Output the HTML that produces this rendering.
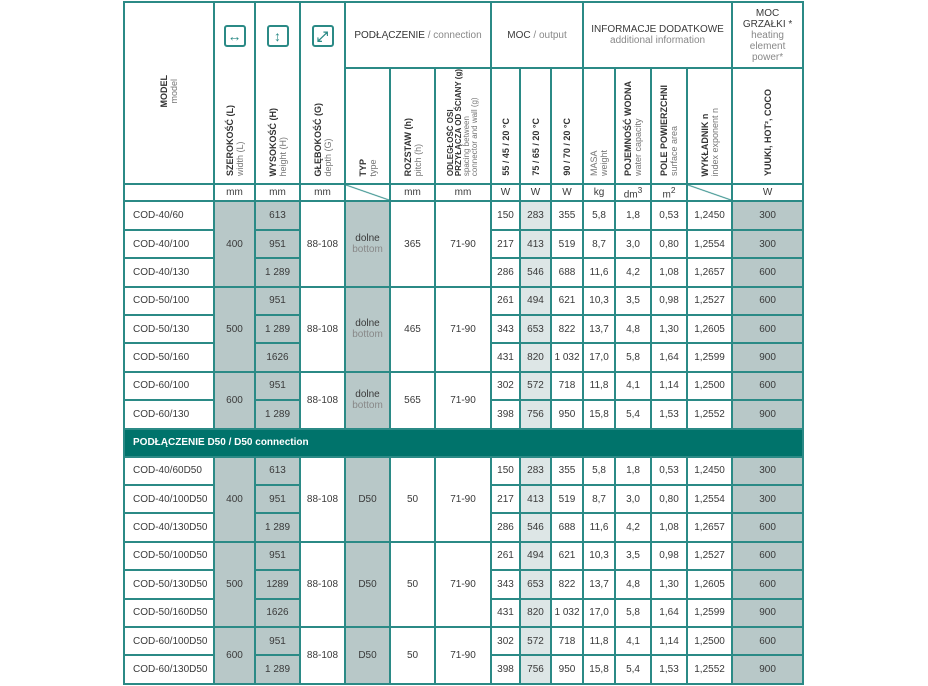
<!DOCTYPE html>
<html><head><meta charset="utf-8"><style>
html,body{margin:0;padding:0;background:#fff;width:928px;height:686px;overflow:hidden}
body{font-family:"Liberation Sans",sans-serif;color:#3a3a3a}
table{position:absolute;left:123px;top:1px;border-collapse:collapse;table-layout:fixed;width:680px}
td{border:2px solid #2b8a86;padding:0;text-align:center;font-size:10px;overflow:hidden}
.g{background:#b8c8c8}
.l{background:#dde6e6}
.m{text-align:left;padding-left:8px}
.v{writing-mode:vertical-rl;transform:rotate(180deg);display:inline-block;text-align:left;line-height:10px;font-size:9px;white-space:nowrap}
.v b{font-weight:bold;color:#333}
.v span{color:#777;font-weight:normal}
.hd td{vertical-align:bottom;padding-bottom:4px}
.ico{display:inline-block;width:18px;height:18px;border:2px solid #2b8a86;border-radius:3px;color:#2b8a86;font-size:14px;line-height:18px;font-weight:bold}
.dg{background:linear-gradient(to bottom left,transparent calc(50% - 1px),#2b8a86 50%,transparent calc(50% + 1px))}
.band td{background:#00736b;color:#fff;text-align:left;padding-left:8px;font-weight:bold;height:26px}
.r td{height:26.4px}
.s{color:#888}
</style></head><body>
<table>
<colgroup><col style="width:90px"><col style="width:41px"><col style="width:45px"><col style="width:45px"><col style="width:45px"><col style="width:45px"><col style="width:56px"><col style="width:29px"><col style="width:31px"><col style="width:32px"><col style="width:32px"><col style="width:36px"><col style="width:36px"><col style="width:45px"><col style="width:71px"></colgroup>
<tr style="height:66px">
<td rowspan="2"><span class="v" style="text-align:center"><b>MODEL</b><br><span>model</span></span></td>
<td style="border-bottom:none"><span class="ico">↔</span></td>
<td style="border-bottom:none"><span class="ico">↕</span></td>
<td style="border-bottom:none"><span class="ico">⤢</span></td>
<td colspan="3"><span style="color:#333">PODŁĄCZENIE</span> <span class="s">/ connection</span></td>
<td colspan="3">MOC <span class="s">/ output</span></td>
<td colspan="4">INFORMACJE DODATKOWE<br><span class="s">additional information</span></td>
<td style="line-height:11px">MOC<br>GRZAŁKI *<br><span class="s">heating<br>element<br>power*</span></td>
</tr>
<tr class="hd">
<td style="border-top:none;height:108px"><span class="v"><b>SZEROKOŚĆ (L)</b><br><span>width (L)</span></span></td>
<td style="border-top:none"><span class="v"><b>WYSOKOŚĆ (H)</b><br><span>height (H)</span></span></td>
<td style="border-top:none"><span class="v"><b>GŁĘBOKOŚĆ (G)</b><br><span>depth (G)</span></span></td>
<td><span class="v"><b>TYP</b><br><span>type</span></span></td>
<td><span class="v"><b>ROZSTAW (h)</b><br><span>pitch (h)</span></span></td>
<td><span class="v" style="line-height:8px;font-size:8px"><b>ODLEGŁOŚĆ OSI<br>PRZYŁĄCZA OD ŚCIANY (g)</b><br><span>spacing between<br>connector and wall (g)</span></span></td>
<td><span class="v"><b>55 / 45 / 20 °C</b></span></td>
<td><span class="v"><b>75 / 65 / 20 °C</b></span></td>
<td><span class="v"><b>90 / 70 / 20 °C</b></span></td>
<td><span class="v"><span>MASA<br>weight</span></span></td>
<td><span class="v"><b>POJEMNOŚĆ WODNA</b><br><span>water capacity</span></span></td>
<td><span class="v"><b>POLE POWIERZCHNI</b><br><span>surface area</span></span></td>
<td><span class="v"><b>WYKŁADNIK n</b><br><span>index exponent n</span></span></td>
<td><span class="v"><b>YUUKI, HOT², COCO</b></span></td>
</tr>
<tr style="height:16px">
<td></td><td>mm</td><td>mm</td><td>mm</td><td class="dg"></td><td>mm</td><td>mm</td><td>W</td><td>W</td><td>W</td><td>kg</td><td>dm<sup>3</sup></td><td>m<sup>2</sup></td><td class="dg"></td><td>W</td>
</tr>
<tr class="r"><td class="m">COD-40/60</td><td rowspan="3" class="g">400</td><td class="g">613</td><td rowspan="3">88-108</td><td rowspan="3" class="g">dolne<br><span class="s">bottom</span></td><td rowspan="3">365</td><td rowspan="3">71-90</td><td>150</td><td class="l">283</td><td>355</td><td>5,8</td><td>1,8</td><td>0,53</td><td>1,2450</td><td class="g">300</td></tr>
<tr class="r"><td class="m">COD-40/100</td><td class="g">951</td><td>217</td><td class="l">413</td><td>519</td><td>8,7</td><td>3,0</td><td>0,80</td><td>1,2554</td><td class="g">300</td></tr>
<tr class="r"><td class="m">COD-40/130</td><td class="g">1 289</td><td>286</td><td class="l">546</td><td>688</td><td>11,6</td><td>4,2</td><td>1,08</td><td>1,2657</td><td class="g">600</td></tr>
<tr class="r"><td class="m">COD-50/100</td><td rowspan="3" class="g">500</td><td class="g">951</td><td rowspan="3">88-108</td><td rowspan="3" class="g">dolne<br><span class="s">bottom</span></td><td rowspan="3">465</td><td rowspan="3">71-90</td><td>261</td><td class="l">494</td><td>621</td><td>10,3</td><td>3,5</td><td>0,98</td><td>1,2527</td><td class="g">600</td></tr>
<tr class="r"><td class="m">COD-50/130</td><td class="g">1 289</td><td>343</td><td class="l">653</td><td>822</td><td>13,7</td><td>4,8</td><td>1,30</td><td>1,2605</td><td class="g">600</td></tr>
<tr class="r"><td class="m">COD-50/160</td><td class="g">1626</td><td>431</td><td class="l">820</td><td>1 032</td><td>17,0</td><td>5,8</td><td>1,64</td><td>1,2599</td><td class="g">900</td></tr>
<tr class="r"><td class="m">COD-60/100</td><td rowspan="2" class="g">600</td><td class="g">951</td><td rowspan="2">88-108</td><td rowspan="2" class="g">dolne<br><span class="s">bottom</span></td><td rowspan="2">565</td><td rowspan="2">71-90</td><td>302</td><td class="l">572</td><td>718</td><td>11,8</td><td>4,1</td><td>1,14</td><td>1,2500</td><td class="g">600</td></tr>
<tr class="r"><td class="m">COD-60/130</td><td class="g">1 289</td><td>398</td><td class="l">756</td><td>950</td><td>15,8</td><td>5,4</td><td>1,53</td><td>1,2552</td><td class="g">900</td></tr>
<tr class="band"><td colspan="15">PODŁĄCZENIE D50 / D50 connection</td></tr>
<tr class="r"><td class="m">COD-40/60D50</td><td rowspan="3" class="g">400</td><td class="g">613</td><td rowspan="3">88-108</td><td rowspan="3" class="g">D50</td><td rowspan="3">50</td><td rowspan="3">71-90</td><td>150</td><td class="l">283</td><td>355</td><td>5,8</td><td>1,8</td><td>0,53</td><td>1,2450</td><td class="g">300</td></tr>
<tr class="r"><td class="m">COD-40/100D50</td><td class="g">951</td><td>217</td><td class="l">413</td><td>519</td><td>8,7</td><td>3,0</td><td>0,80</td><td>1,2554</td><td class="g">300</td></tr>
<tr class="r"><td class="m">COD-40/130D50</td><td class="g">1 289</td><td>286</td><td class="l">546</td><td>688</td><td>11,6</td><td>4,2</td><td>1,08</td><td>1,2657</td><td class="g">600</td></tr>
<tr class="r"><td class="m">COD-50/100D50</td><td rowspan="3" class="g">500</td><td class="g">951</td><td rowspan="3">88-108</td><td rowspan="3" class="g">D50</td><td rowspan="3">50</td><td rowspan="3">71-90</td><td>261</td><td class="l">494</td><td>621</td><td>10,3</td><td>3,5</td><td>0,98</td><td>1,2527</td><td class="g">600</td></tr>
<tr class="r"><td class="m">COD-50/130D50</td><td class="g">1289</td><td>343</td><td class="l">653</td><td>822</td><td>13,7</td><td>4,8</td><td>1,30</td><td>1,2605</td><td class="g">600</td></tr>
<tr class="r"><td class="m">COD-50/160D50</td><td class="g">1626</td><td>431</td><td class="l">820</td><td>1 032</td><td>17,0</td><td>5,8</td><td>1,64</td><td>1,2599</td><td class="g">900</td></tr>
<tr class="r"><td class="m">COD-60/100D50</td><td rowspan="2" class="g">600</td><td class="g">951</td><td rowspan="2">88-108</td><td rowspan="2" class="g">D50</td><td rowspan="2">50</td><td rowspan="2">71-90</td><td>302</td><td class="l">572</td><td>718</td><td>11,8</td><td>4,1</td><td>1,14</td><td>1,2500</td><td class="g">600</td></tr>
<tr class="r"><td class="m">COD-60/130D50</td><td class="g">1 289</td><td>398</td><td class="l">756</td><td>950</td><td>15,8</td><td>5,4</td><td>1,53</td><td>1,2552</td><td class="g">900</td></tr>
</table>
</body></html>
